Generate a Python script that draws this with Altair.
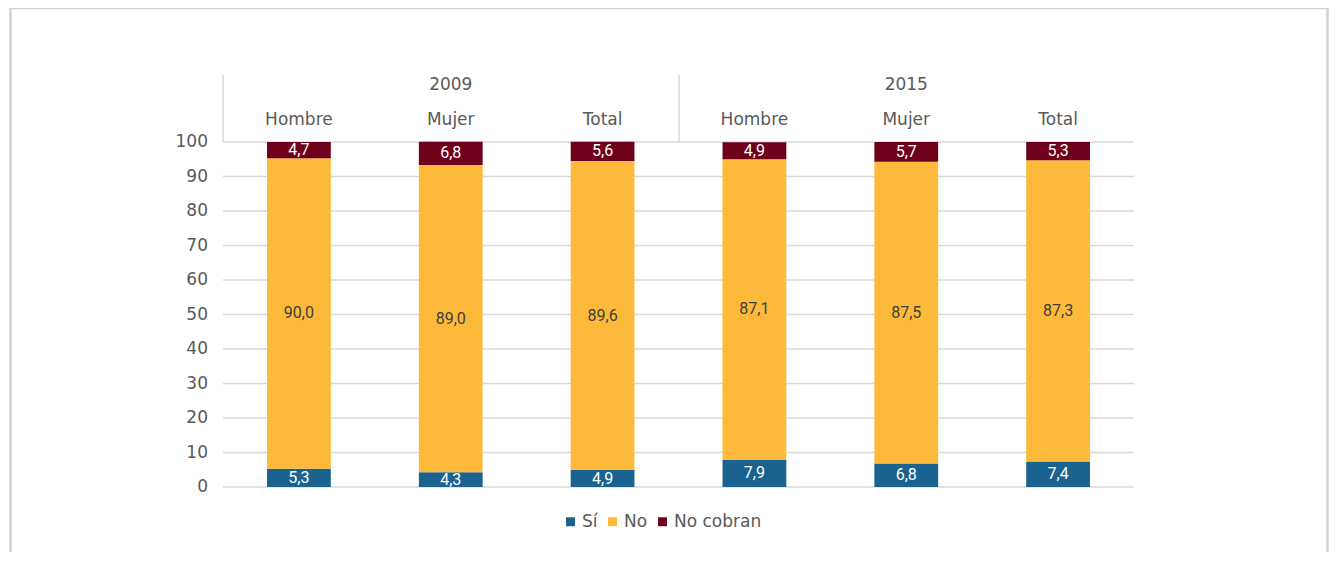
import altair as alt
import pandas as pd

years = ["2009", "2015"]
cats = ["Hombre", "Mujer", "Total"]
series = ["Sí", "No", "No cobran"]
si = [5.3, 4.3, 4.9, 7.9, 6.8, 7.4]
no = [90.0, 89.0, 89.6, 87.1, 87.5, 87.3]
nc = [4.7, 6.8, 5.6, 4.9, 5.7, 5.3]
y_ticks = [0, 10, 20, 30, 40, 50, 60, 70, 80, 90, 100]
colors = ["#1a6391", "#fdb939", "#6e001b"]
label_colors = ["#ffffff", "#404040", "#ffffff"]

keys = [f"{y} {c}" for y in years for c in cats]

rows = []
for i, k in enumerate(keys):
    base = 0.0
    for s, vals, tc in zip(series, [si, no, nc], label_colors):
        v = vals[i]
        rows.append({
            "key": k, "serie": s, "value": v,
            "y0": base, "y1": base + v, "mid": base + v / 2,
            "label": f"{v:.1f}".replace(".", ","), "tcolor": tc,
        })
        base += v
df = pd.DataFrame(rows)

head_cats = pd.DataFrame({"key": keys, "label": [c for y in years for c in cats]})
head_years = pd.DataFrame({"key": [f"{y} Mujer" for y in years], "label": years})
ticks_df = pd.DataFrame({"v": y_ticks, "t": [str(t) for t in y_ticks]})

xscale = alt.Scale(type="band", domain=keys, paddingInner=0.58, paddingOuter=0.29, round=False)
X = alt.X("key:N", scale=xscale, axis=None)
yscale = alt.Scale(domain=[0, 100], nice=False)

grid = alt.Chart(ticks_df).mark_rule(color="#d9d9d9", strokeWidth=1.5).encode(
    y=alt.Y("v:Q", scale=yscale, axis=None), x=alt.value(0), x2=alt.value(911))
ylab = alt.Chart(ticks_df).mark_text(font="DejaVu Sans", fontSize=17, color="#595959",
                                     align="right", baseline="middle").encode(
    y=alt.Y("v:Q", scale=yscale, axis=None), x=alt.value(-15), text="t:N")

bars = alt.Chart(df).mark_bar().encode(
    x=X,
    y=alt.Y("y0:Q", scale=yscale, axis=None),
    y2="y1:Q",
    color=alt.Color("serie:N", scale=alt.Scale(domain=series, range=colors),
                    legend=alt.Legend(title=None, orient="none", direction="horizontal",
                                      legendX=339, legendY=371, symbolType="square",
                                      symbolSize=80, labelFontSize=17, labelColor="#595959",
                                      labelFont="DejaVu Sans", columnPadding=6, labelOffset=3)),
    order=alt.Order("y0:Q"),
)

labels = alt.Chart(df).mark_text(font="Roboto", fontSize=16, baseline="middle").encode(
    x=X, y=alt.Y("mid:Q", scale=yscale, axis=None), text="label:N",
    color=alt.Color("tcolor:N", scale=None),
)

hc = alt.Chart(head_cats).mark_text(font="DejaVu Sans", fontSize=17, color="#595959",
                                    baseline="middle").encode(
    x=X, y=alt.value(-22), text="label:N")
hy = alt.Chart(head_years).mark_text(font="DejaVu Sans", fontSize=17, color="#595959",
                                     baseline="middle").encode(
    x=X, y=alt.value(-57), text="label:N")

one = pd.DataFrame({"a": [0]})
hl1 = alt.Chart(one).mark_rule(color="#d9d9d9", strokeWidth=1.5).encode(
    x=alt.value(0), y=alt.value(-67), y2=alt.value(0))
hl2 = alt.Chart(one).mark_rule(color="#d9d9d9", strokeWidth=1.5).encode(
    x=alt.value(456), y=alt.value(-67), y2=alt.value(0))

frame_c = "#d2d2d2"
fl = alt.Chart(one).mark_rule(color=frame_c, strokeWidth=2.5).encode(
    x=alt.value(-212.5), y=alt.value(-134), y2=alt.value(430))
ft = alt.Chart(one).mark_rule(color=frame_c, strokeWidth=2.5).encode(
    x=alt.value(-213.5), x2=alt.value(1106), y=alt.value(-134))
fr = alt.Chart(one).mark_rule(color=frame_c, strokeWidth=2.5).encode(
    x=alt.value(1104.5), y=alt.value(-134), y2=alt.value(430))

chart = alt.layer(grid, ylab, bars, labels, hc, hy, hl1, hl2, fl, ft, fr).properties(
    width=911, height=345,
    autosize=alt.AutoSizeParams(type="none"),
    padding={"left": 215, "top": 134, "right": 195, "bottom": 65},
    background="white",
).configure_view(stroke=None)

chart.save("out.html", embed_options={"renderer": "svg", "actions": False})
